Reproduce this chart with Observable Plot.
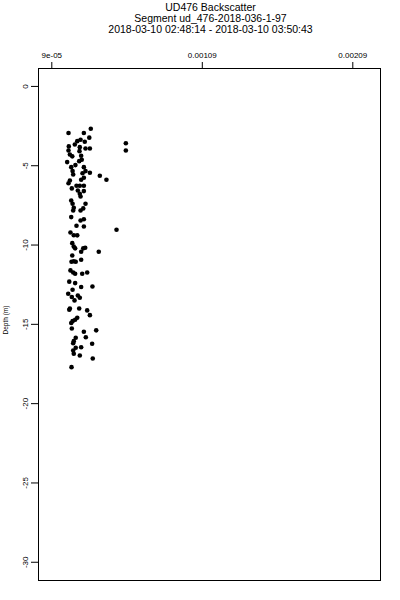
<!DOCTYPE html>
<html>
<head>
<meta charset="utf-8">
<script src="https://cdn.jsdelivr.net/npm/d3@7"></script>
<script src="https://cdn.jsdelivr.net/npm/@observablehq/plot@0.6"></script>
<style>
  html, body { margin: 0; padding: 0; background: #fff; }
  svg { display: block; }
</style>
</head>
<body>
<div id="chart"></div>
<script>
// Title lines
const titleLines = [
  "UD476 Backscatter",
  "Segment ud_476-2018-036-1-97",
  "2018-03-10 02:48:14 - 2018-03-10 03:50:43"
];
const xLabel = null;
const yLabel = "Depth (m)";

// Tick values and labels
const xTicks = [9e-05, 0.00109, 0.00209];
const xTickLabels = ["9e-05", "0.00109", "0.00209"];
const yTicks = [0, -5, -10, -15, -20, -25, -30];

// Axis extents
const xDomain = [1.6e-06, 0.002274];
const yDomain = [-31.15, 1.13];

// Backscatter values (units of 1e-5) and depths (m)
const backscatterE5 = [
  34.9, 20.1, 30.3, 33.9, 28.1, 25.9, 30.9, 58.2, 58.2, 24.3,
  20.3, 20.1, 21.0, 22.6, 27.6, 31.4, 34.3, 27.4, 28.5, 28.9,
  27.2, 19.2, 24.7, 21.9, 22.8, 23.2, 30.3, 31.4, 34.3, 29.4,
  40.9, 45.3, 21.0, 20.1, 30.3, 28.5, 25.4, 27.6, 30.3, 26.3,
  27.6, 28.1, 22.3, 30.3, 21.9, 22.8, 31.4, 23.6, 23.2, 28.1,
  29.9, 21.9, 28.1, 30.3, 25.4, 30.3, 52.0, 21.4, 23.6, 25.9,
  22.6, 23.6, 24.5, 29.9, 31.2, 28.5, 40.2, 22.6, 22.1, 23.6,
  24.9, 28.5, 21.4, 23.2, 24.5, 29.2, 32.5, 20.6, 24.5, 28.5,
  36.0, 22.8, 19.9, 22.3, 24.1, 26.3, 27.6, 21.0, 20.6, 27.2,
  32.5, 34.3, 25.9, 24.5, 22.8, 21.9, 22.3, 30.3, 38.5, 31.6,
  24.9, 23.6, 23.2, 35.8, 28.5, 24.9, 23.2, 23.6, 27.6, 36.2,
  22.1
];
const depths = [
  -2.67, -2.94, -2.94, -3.23, -3.36, -3.45, -3.49, -3.58, -4.04, -3.66,
  -3.78, -4.04, -4.29, -4.41, -3.83, -3.91, -3.91, -4.08, -4.37, -4.62,
  -4.71, -4.77, -4.96, -5.09, -5.34, -5.55, -5.09, -5.34, -5.44, -5.47,
  -5.63, -5.88, -5.93, -6.10, -5.76, -5.88, -6.26, -6.26, -6.26, -6.56,
  -6.77, -6.94, -6.43, -6.60, -7.19, -7.40, -7.40, -7.65, -7.82, -7.82,
  -7.69, -8.24, -8.45, -8.37, -8.78, -8.83, -9.04, -9.21, -9.38, -9.39,
  -9.88, -10.09, -10.21, -10.21, -10.17, -10.42, -10.42, -10.66, -11.05, -11.02,
  -11.05, -10.93, -11.60, -11.73, -11.81, -11.81, -11.73, -12.31, -12.40, -12.65,
  -12.61, -12.82, -13.07, -13.28, -13.49, -13.18, -13.32, -14.00, -14.08, -14.00,
  -14.12, -14.42, -14.58, -14.71, -14.80, -14.92, -15.26, -15.47, -15.38, -15.81,
  -15.85, -16.06, -16.19, -16.22, -16.44, -16.48, -16.65, -16.85, -16.96, -17.15,
  -17.70
];

const data = depths.map((d, i) => ({ x: backscatterE5[i] * 1e-5, y: d }));

const W = 400, H = 600;
const font = "'Liberation Sans', Arial, Helvetica, sans-serif";

const plot = Plot.plot({
  width: W,
  height: H,
  marginLeft: 38,
  marginRight: 20,
  marginTop: 68,
  marginBottom: 20,
  style: { fontFamily: font, fontSize: "8px", background: "#fff", color: "#000" },
  x: { domain: xDomain, axis: null },
  y: { domain: yDomain, axis: null },
  marks: [
    Plot.frame({ stroke: "#000", strokeWidth: 1 }),
    Plot.axisX({
      anchor: "top",
      ticks: xTicks,
      tickSize: 7,
      tickPadding: 4,
      tickFormat: (d, i) => xTickLabels[xTicks.indexOf(d)],
      label: xLabel,
      stroke: "#000",
      fill: "#000"
    }),
    Plot.axisY({
      anchor: "left",
      ticks: yTicks,
      tickSize: 7,
      tickPadding: 4,
      tickRotate: -90,
      tickFormat: d => String(d),
      label: null,
      stroke: "#000",
      fill: "#000"
    }),
    Plot.dot(data, { x: "x", y: "y", r: 2.3, fill: "#000", stroke: null })
  ]
});

document.getElementById("chart").appendChild(plot);

const svg = d3.select(plot);
const cx = 210.5;
const baselines = [10.5, 21.5, 32.5];
titleLines.forEach((t, i) => {
  svg.append("text")
    .attr("x", cx)
    .attr("y", baselines[i])
    .attr("text-anchor", "middle")
    .style("font-family", font)
    .style("font-size", "10.5px")
    .attr("fill", "#000")
    .text(t);
});
svg.append("text")
  .attr("transform", `translate(7.5, 320) rotate(-90)`)
  .attr("text-anchor", "middle")
  .style("font-family", font)
  .style("font-size", "6.5px")
  .attr("fill", "#000")
  .text(yLabel);
</script>
</body>
</html>
